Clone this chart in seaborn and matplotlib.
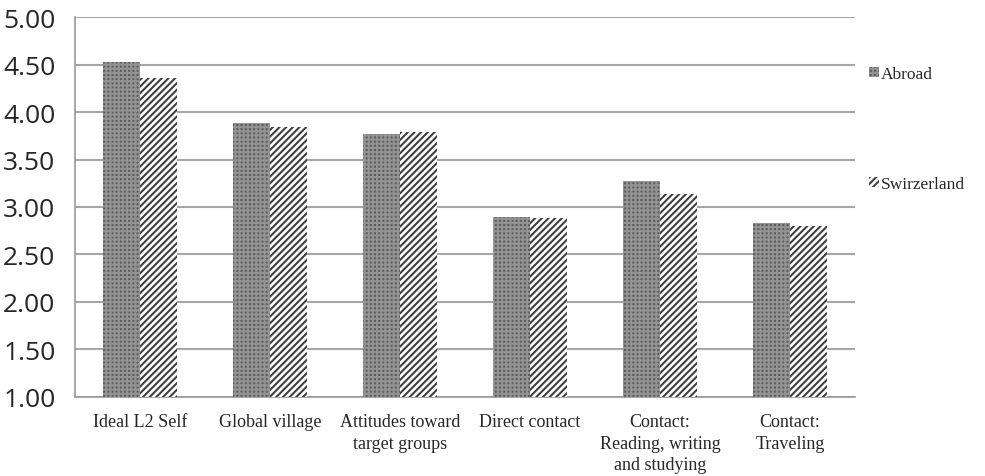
import pandas as pd
import matplotlib.pyplot as plt
import seaborn as sns
import numpy as np

categories = ["Ideal L2 Self", "Global village", "Attitudes toward\ntarget groups",
              "Direct contact", "Contact:\nReading, writing\nand studying", "Contact:\nTraveling"]
abroad = [4.53, 3.88, 3.77, 2.89, 3.27, 2.83]
switzerland = [4.36, 3.84, 3.79, 2.88, 3.14, 2.80]
groups = ["Abroad", "Swirzerland"]
yticks = [1.00, 1.50, 2.00, 2.50, 3.00, 3.50, 4.00, 4.50, 5.00]

data = pd.DataFrame({
    "category": categories * 2,
    "value": abroad + switzerland,
    "group": [groups[0]] * len(categories) + [groups[1]] * len(categories),
})

sns.set_style("white")
plt.rcParams["hatch.linewidth"] = 1.5

fig = plt.figure(figsize=(9.85, 4.77), dpi=100)
ax = fig.add_axes([0.076, 0.166, 0.792, 0.796])

sns.barplot(data=data, x="category", y="value", hue="group", order=categories,
            hue_order=groups, palette=["#6f6f6f", "white"], width=0.57,
            saturation=1, ax=ax, zorder=3, legend=True)

styles = [("++++", "#5c5c5c", "#939393"), ("/////", "white", "#404040")]
for container, (h, fc, ec) in zip(ax.containers, styles):
    for bar in container:
        bar.set_hatch(h)
        bar.set_facecolor(fc)
        bar.set_edgecolor(ec)
        bar.set_linewidth(0)

ax.set_ylim(1.0, 5.0)
ax.set_xlim(-0.5, len(categories) - 0.5)
ax.set_yticks(yticks)
ax.set_yticklabels([f"{t:.2f}" for t in yticks], fontsize=19, family="Open Sans")
ax.set_xticks(range(len(categories)))
ax.set_xticklabels(categories, fontsize=13, family="Liberation Serif", linespacing=1.32)
ax.set_xticks(np.arange(-0.5, len(categories), 1.0), minor=True)
ax.tick_params(axis="x", which="major", length=0, pad=12)
ax.tick_params(axis="x", which="minor", length=5, width=1.2, color="#999999", direction="out")
ax.tick_params(axis="y", length=5, width=1.2, color="#999999", direction="out", pad=9)
ax.yaxis.grid(True, color="#a6a6a6", linewidth=1.5, zorder=0)
ax.set_axisbelow(True)
for side in ["top", "right"]:
    ax.spines[side].set_visible(False)
for side in ["left", "bottom"]:
    ax.spines[side].set_color("#999999")
    ax.spines[side].set_linewidth(1.2)
ax.set_xlabel("")
ax.set_ylabel("")

leg = ax.legend(loc="upper left", bbox_to_anchor=(0.998, 0.912), frameon=False,
                prop={"family": "Liberation Serif", "size": 12.5},
                handlelength=0.55, handleheight=0.55, handletextpad=0.15, labelspacing=5.4)
for handle, (h, fc, ec) in zip(leg.legend_handles, styles):
    handle.set_hatch(h)
    handle.set_facecolor(fc)
    handle.set_edgecolor(ec)
    handle.set_linewidth(0)

fig.savefig("out.png", dpi=100)
